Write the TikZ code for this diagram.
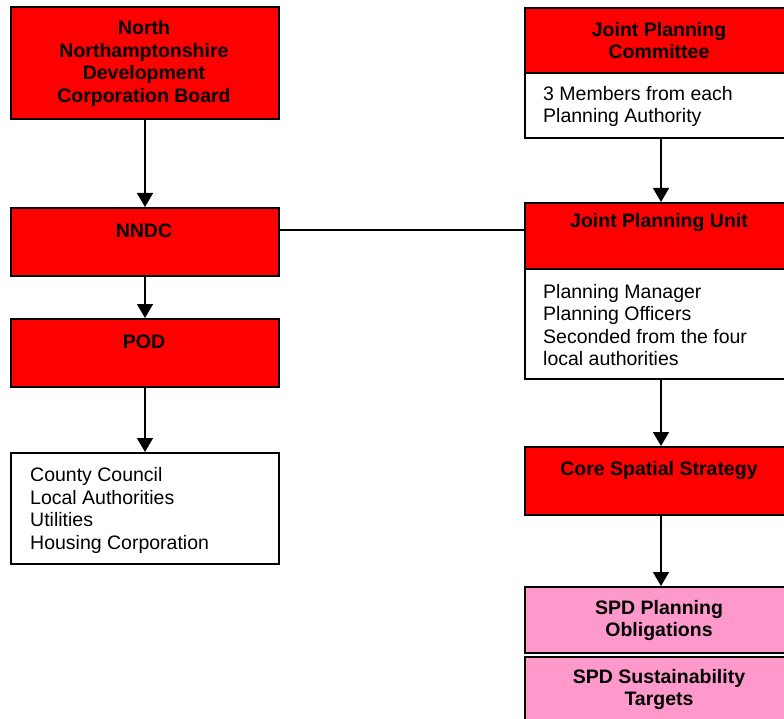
\documentclass[tikz,border=0pt]{standalone}
\usepackage{fontspec}
\setmainfont{Liberation Sans}
\usetikzlibrary{arrows.meta}
\definecolor{boxred}{HTML}{FF0000}
\definecolor{boxpink}{HTML}{FF99CC}
\begin{document}
\begin{tikzpicture}[x=1pt,y=-1pt,
  box/.style={draw=black, line width=2pt, anchor=north west, inner sep=0pt, minimum width=268pt},
  rbox/.style={box, minimum width=272pt},
  title/.style={font=\bfseries\fontsize{19.5}{22.5}\selectfont, align=center, inner sep=0pt},
  body/.style={font=\fontsize{19.5}{22.5}\selectfont, align=left, anchor=west, inner sep=0pt},
  arr/.style={line width=1.5pt, -{Triangle[width=16pt,length=14pt]}}]
\useasboundingbox (0,0) rectangle (784,719);
\clip (0,0) rectangle (784,719);
% left column
\node[box, fill=boxred, minimum height=112pt] (ncb) at (10,6) {};
\node[box, fill=boxred, minimum height=68pt] (nndc) at (10,207) {};
\node[box, fill=boxred, minimum height=68pt] (pod) at (10,318) {};
\node[box, fill=white, minimum height=111pt] (list) at (10,452) {};
\node[title] (ncbt) at (144,63.5) {North\\Northamptonshire\\Development\\Corporation Board};
\node[title] (nndct) at (144,231) {NNDC};
\node[title] (podt) at (144,342) {POD};
\node[body] (listt) at (30,510.5) {County Council\\Local Authorities\\Utilities\\Housing Corporation};
% right column
\node[rbox, fill=boxred, minimum height=65pt] (jpc) at (524,7) {};
\node[rbox, fill=white, minimum height=65pt] (jpcb) at (524,72) {};
\node[rbox, fill=boxred, minimum height=66pt] (jpu) at (524,202) {};
\node[rbox, fill=white, minimum height=110pt] (jpub) at (524,268) {};
\node[rbox, fill=boxred, minimum height=68pt] (css) at (524,446) {};
\node[rbox, fill=boxpink, minimum height=66pt] (spd1) at (524,586) {};
\node[rbox, fill=boxpink, minimum height=80pt] (spd2) at (524,656) {};
\node[title] (jpct) at (659,40.5) {Joint Planning\\Committee};
\node[body] (jpcbt) at (543,106.5) {3 Members from each\\Planning Authority};
\node[title] (jput) at (659,223) {Joint Planning Unit};
\node[body] (jpubt) at (543,325) {Planning Manager\\Planning Officers\\Seconded from the four\\local authorities};
\node[title] (csst) at (659,470) {Core Spatial Strategy};
\node[title] (spd1t) at (659,620.5) {SPD Planning\\Obligations};
\node[title] (spd2t) at (659,689.5) {SPD Sustainability\\Targets};
% connectors
\draw[arr] (ncb.south) -- (nndc.north);
\draw[arr] (nndc.south) -- (pod.north);
\draw[arr] (pod.south) -- (list.north);
\draw[arr] (jpcb.south) -- (jpu.north);
\draw[arr] (jpub.south) -- (css.north);
\draw[arr] (css.south) -- (spd1.north);
\path (nndc.north east) ++(0,23) coordinate (link);
\draw[line width=1.5pt] (link) -- (link -| jpu.west);
\end{tikzpicture}
\end{document}
